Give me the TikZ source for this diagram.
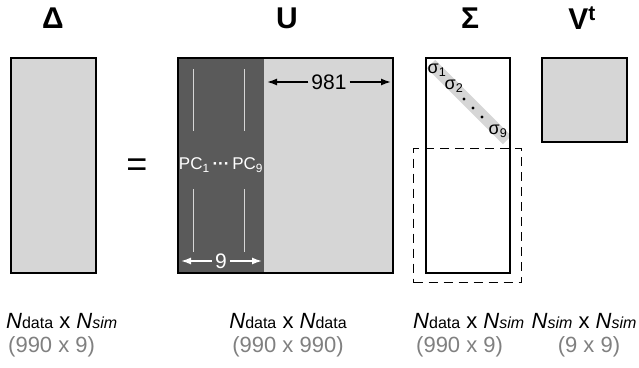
\documentclass[tikz,border=0pt]{standalone}
\usepackage{fontspec}
\setmainfont{Liberation Sans}
\definecolor{mllight}{RGB}{214,214,214}
\definecolor{mldark}{RGB}{90,90,90}
\definecolor{mltext}{RGB}{128,128,128}
\usetikzlibrary{arrows.meta,positioning}
\newcommand{\Ndata}{\textit{N}\raisebox{-0.5pt}{\fontsize{16}{16}\selectfont data}}
\newcommand{\Nsim}{\textit{N}\raisebox{-0.5pt}{\fontsize{16}{16}\selectfont\itshape sim}}

\begin{document}
\begin{tikzpicture}[
  x=1pt, y=-1pt,
  matbox/.style={draw=black,line width=1.4pt,fill=mllight,inner sep=0pt,outer sep=0pt,anchor=north west},
  pcbox/.style={fill=mldark,inner sep=0pt,outer sep=0pt,anchor=north west,minimum width=86pt,minimum height=215pt},
  pcline/.style={draw=mllight,line width=0.9pt},
  title/.style={font=\fontsize{30}{30}\selectfont\bfseries},
  dimlabel/.style={font=\fontsize{21}{21}\selectfont,inner sep=3pt},
  dimarrow/.style={line width=1.5pt,-{Latex[length=10pt,width=7pt]}},
  siglabel/.style={font=\fontsize{18}{18}\selectfont,inner sep=0pt},
  sizeline/.style={font=\fontsize{22}{22}\selectfont,inner sep=0pt},
  sizenum/.style={font=\fontsize{22}{22}\selectfont,text=mltext,inner sep=0pt},
]
  \useasboundingbox (0,0) rectangle (639,367);

  % titles
  \node[title] (tD) at (53,18) {Δ};
  \node[title] (tU) at (287,18) {U};
  \node[title] (tS) at (470,18) {Σ};
  \node[title] (tV) at (582,18) {V\textsuperscript{t}};

  % Delta
  \node[matbox,minimum width=85pt,minimum height=215pt] (D) at (11,58) {};
  \node[font=\fontsize{36}{36}\selectfont] (eq) at (137,168) {=};

  % U with the principal components
  \node[matbox,minimum width=215pt,minimum height=215pt] (U) at (178,58) {};
  \node[pcbox] (pc) at (U.north west) {};
  \draw[line width=1.4pt] (U.north west) rectangle (U.south east);
  \foreach \xx in {193,244} {
    \draw[pcline] (\xx,69) -- (\xx,131);
    \draw[pcline] (\xx,189) -- (\xx,252);
  }
  \node[font=\fontsize{17}{17}\selectfont,text=white,inner sep=0pt] (pcl) at (221,165)
    {PC\textsubscript{1}\,\textbf{···}\,PC\textsubscript{9}};
  \node[dimlabel] (w981) at (329,82) {981};
  \coordinate (a981l) at (267,82);
  \coordinate (a981r) at (391,82);
  \draw[dimarrow] (w981) -- (a981l);
  \draw[dimarrow] (w981) -- (a981r);
  \node[dimlabel,text=white] (w9) at (221,261) {9};
  \coordinate (a9l) at (181,261);
  \coordinate (a9r) at (262,261);
  \draw[dimarrow,white] (w9) -- (a9l);
  \draw[dimarrow,white] (w9) -- (a9r);

  % Sigma
  \draw[mllight,line width=12pt] (431,64) -- (507,140);
  \node[matbox,fill=none,minimum width=84pt,minimum height=215pt] (S) at (426,58) {};
  \node[draw=black,line width=1.3pt,dash pattern=on 9pt off 6pt,inner sep=0pt,anchor=north west,
        minimum width=108pt,minimum height=134pt] (Sz) at (413,148) {};
  \node[siglabel] (s1) at (437,70) {σ\textsubscript{1}};
  \node[siglabel] (s2) at (454,86) {σ\textsubscript{2}};
  \foreach \p in {(464,99),(473,108),(482,117)}
    \fill \p circle (1.7);
  \node[siglabel] (s9) at (498,131) {σ\textsubscript{9}};

  % V transposed
  \node[matbox,minimum width=85pt,minimum height=84pt] (V) at (542,58) {};

  % sizes
  \node[sizeline,anchor=base west] (nD) at (6,328) {\Ndata{} x \Nsim};
  \node[sizenum,anchor=base west] (kD) at (8,352) {(990 x 9)};
  \node[sizeline,anchor=base] (nU) at (288,328) {\Ndata{} x \Ndata};
  \node[sizenum,anchor=base] (kU) at (288,352) {(990 x 990)};
  \node[sizeline,anchor=base west] (nS) at (413,328) {\Ndata{} x \Nsim};
  \node[sizenum,anchor=base west] (kS) at (416,352) {(990 x 9)};
  \node[sizeline,anchor=base] (nV) at (584,328) {\Nsim{} x \Nsim};
  \node[sizenum,anchor=base] (kV) at (589,352) {(9 x 9)};
\end{tikzpicture}
\end{document}
